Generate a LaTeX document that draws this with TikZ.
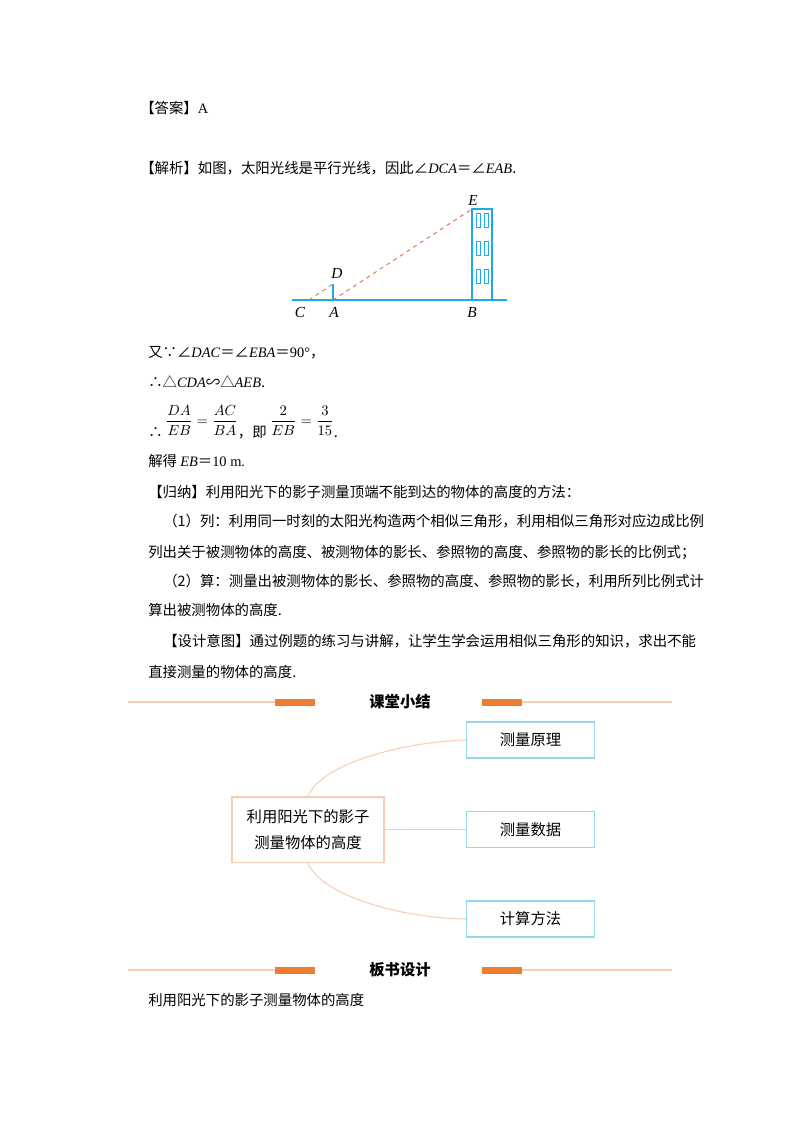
\documentclass[tikz,border=0pt]{standalone}
\usepackage{fontspec}
\setmainfont{Liberation Serif}
\newfontfamily\cjk{Noto Sans CJK SC}
\usetikzlibrary{positioning}
\definecolor{skyblue}{RGB}{30,170,230}
\definecolor{rust}{RGB}{225,110,80}
\definecolor{peach}{RGB}{248,205,180}
\definecolor{boxblue}{RGB}{150,215,240}
\definecolor{barorange}{RGB}{238,125,50}
\tikzset{
  txt/.style={anchor=base west, inner sep=0pt, font=\fontsize{10.8}{13}\selectfont\cjk},
  lbl/.style={inner sep=1pt, font=\fontsize{11.5}{13}\selectfont\itshape},
  leaf/.style={draw=boxblue, line width=1pt, minimum width=96pt, minimum height=27pt, font=\fontsize{11.5}{13}\selectfont\cjk},
  hub/.style={draw=peach, line width=1pt, minimum width=114pt, minimum height=49pt, align=center, font=\fontsize{11.5}{20}\selectfont\cjk},
  link/.style={draw=peach, line width=0.8pt},
  head/.style={font=\fontsize{11.5}{13}\selectfont\cjk\bfseries}
}
\newcommand{\ital}[1]{{\rmfamily\itshape #1}}
\newcommand{\frc}[1]{\raisebox{9pt}{\rmfamily$\displaystyle #1$}}
\begin{document}
\begin{tikzpicture}[x=0.75pt, y=-0.75pt]
    \useasboundingbox (0,0) rectangle (800,1132);

    % Answer and explanation
    \node [txt] (ans) at (140,113) {【答案】{\rmfamily A}};
    \node [txt] (expl) at (140,173) {【解析】如图，太阳光线是平行光线，因此∠\ital{DCA}＝∠\ital{EAB}.};

    % Ground and pole
    \draw [skyblue, line width=1.2pt] (292,300) -- (507,300);
    \draw [skyblue, line width=1.8pt] (333,300) -- (333,284);

    % Building
    \draw [skyblue, line width=1pt] (472,300) rectangle (492,209);
    \foreach \y in {213,241,269} {
        \draw [skyblue, line width=0.7pt] (476,\y) rectangle (480.5,\y+14);
        \draw [skyblue, line width=0.7pt] (484,\y) rectangle (488.5,\y+14);
    }

    % Sun rays
    \coordinate (C) at (309,300);
    \coordinate (A) at (333,300);
    \coordinate (D) at (333,284);
    \coordinate (E) at (472,209);
    \draw [rust, dashed, line width=0.7pt] (C) -- (D);
    \draw [rust, dashed, line width=0.7pt] (A) -- (E);

    % Points
    \node [lbl] (lC) at (300,312) {C};
    \node [lbl] (lA) at (334,312) {A};
    \node [lbl] (lB) at (472,312) {B};
    \node [lbl] (lD) at (337,273) {D};
    \node [lbl] (lE) at (473,200) {E};

    % Reasoning
    \node [txt] (l1) at (148,357) {又∵∠\ital{DAC}＝∠\ital{EBA}＝{\rmfamily 90°}，};
    \node [txt] (l2) at (148,387) {∴△\ital{CDA}∽△\ital{AEB}.};
    \node [txt] (l3) at (148,437) {∴ \frc{\frac{DA}{EB}=\frac{AC}{BA}}，即 \frc{\frac{2}{EB}=\frac{3}{15}}.};
    \node [txt] (l4) at (148,466) {解得 \ital{EB}＝{\rmfamily 10 m.}};

    % Summary of method
    \node [txt] (g1) at (148,497) {【归纳】利用阳光下的影子测量顶端不能到达的物体的高度的方法：};
    \node [txt] (g2) at (163,526) {（1）列：利用同一时刻的太阳光构造两个相似三角形，利用相似三角形对应边成比例};
    \node [txt] (g3) at (148,557) {列出关于被测物体的高度、被测物体的影长、参照物的高度、参照物的影长的比例式；};
    \node [txt] (g4) at (163,586) {（2）算：测量出被测物体的影长、参照物的高度、参照物的影长，利用所列比例式计};
    \node [txt] (g5) at (148,615) {算出被测物体的高度.};
    \node [txt] (s1) at (163,646) {【设计意图】通过例题的练习与讲解，让学生学会运用相似三角形的知识，求出不能};
    \node [txt] (s2) at (148,677) {直接测量的物体的高度.};

    % Section headers
    \foreach \yy/\t in {702/课堂小结, 970/板书设计} {
        \draw [peach, line width=0.8pt] (128,\yy) -- (275,\yy);
        \fill [barorange] (275,\yy-3.5) rectangle (315,\yy+3.5);
        \fill [barorange] (482,\yy-3.5) rectangle (522,\yy+3.5);
        \draw [peach, line width=0.8pt] (522,\yy) -- (672,\yy);
        \node [head] at (400,\yy) {\t};
    }

    % Mind map
    \node [hub] (hub) at (308,829.5) {利用阳光下的影子\\测量物体的高度};
    \node [leaf] (p1) at (530.5,740) {测量原理};
    \node [leaf] (p2) at (530.5,829.5) {测量数据};
    \node [leaf] (p3) at (530.5,919) {计算方法};
    \draw [link] (hub.north) .. controls (320,765) and (400,742) .. (p1.west);
    \draw [link] (hub.east) -- (p2.west);
    \draw [link] (hub.south) .. controls (320,895) and (400,918) .. (p3.west);

    % Board design
    \node [txt] (bd) at (148,1005) {利用阳光下的影子测量物体的高度};
\end{tikzpicture}
\end{document}
